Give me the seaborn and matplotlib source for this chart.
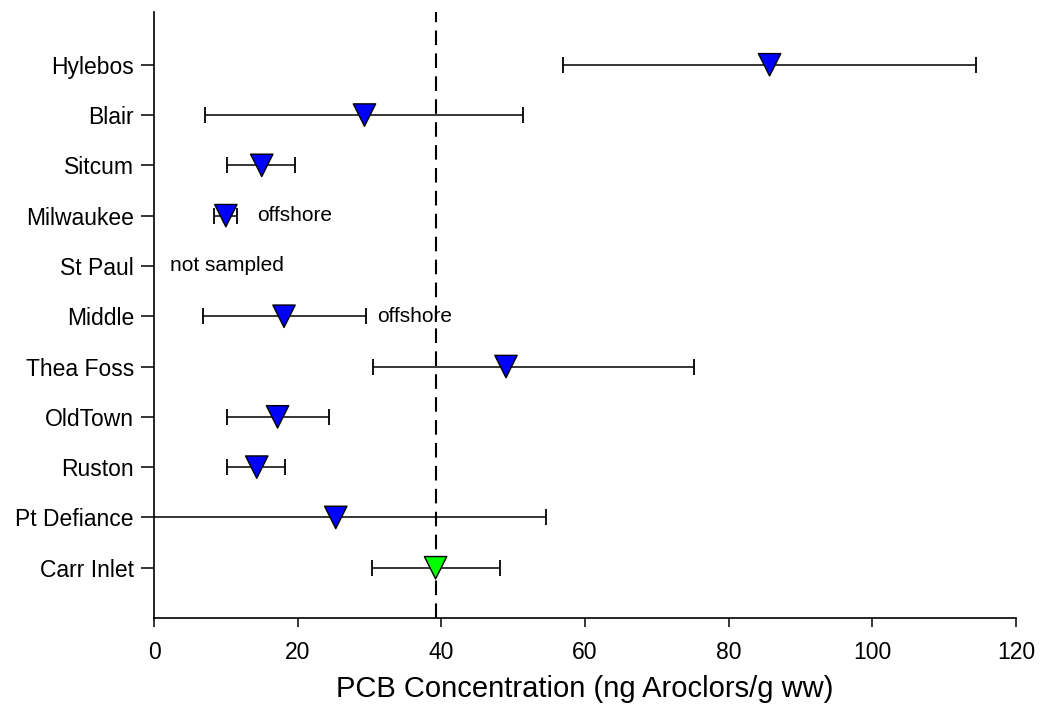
import numpy as np
import pandas as pd
import matplotlib
matplotlib.use("Agg")
import matplotlib.pyplot as plt
import seaborn as sns

sites = ["Hylebos", "Blair", "Sitcum", "Milwaukee", "St Paul", "Middle",
         "Thea Foss", "OldTown", "Ruston", "Pt Defiance", "Carr Inlet"]
means = [85.7, 29.3, 15.0, 10.0, np.nan, 18.1, 49.0, 17.2, 14.3, 25.3, 39.2]
lower = [56.9, 7.1, 10.2, 8.4, np.nan, 6.8, 30.5, 10.2, 10.2, -2.0, 30.3]
upper = [114.5, 51.4, 19.6, 11.6, np.nan, 29.5, 75.2, 24.3, 18.3, 54.6, 48.1]
site_type = ["urban"] * 10 + ["reference"]
reference_level = 39.2
notes = [("offshore", "Milwaukee", 14.3), ("not sampled", "St Paul", 2.2),
         ("offshore", "Middle", 31.0)]
xticks = [0, 20, 40, 60, 80, 100, 120]

sns.set_theme(style="ticks")
plt.rcParams["font.family"] = ["Liberation Sans", "DejaVu Sans"]
plt.rcParams["text.color"] = "black"
plt.rcParams["axes.labelcolor"] = "black"

df = pd.DataFrame({"site": sites, "mean": means, "lo": lower, "hi": upper,
                   "type": site_type})
df["pos"] = np.arange(len(sites))

fig = plt.figure(figsize=(10.4, 7.13), dpi=100)
ax = fig.add_axes([0.1481, 0.1332, 0.8288, 0.85])

d = df.dropna()
ax.errorbar(d["mean"], d["pos"],
            xerr=[d["mean"] - d["lo"], d["hi"] - d["mean"]],
            fmt="none", ecolor="black", elinewidth=1.1, capsize=6,
            capthick=1.3, zorder=2)

ax.axvline(reference_level, color="black", lw=1.5, ls=(0, (7, 4)), zorder=1)

sns.scatterplot(data=d, x="mean", y="pos", hue="type",
                palette={"urban": "#0000FF", "reference": "#00FF00"},
                marker="v", s=260, edgecolor="black", linewidth=1.0,
                legend=False, ax=ax, zorder=3)

for txt, site, xv in notes:
    ax.text(xv, sites.index(site), txt, fontsize=15, va="center",
            ha="left", color="black")

ax.set_xlim(0, 120)
ax.set_ylim(11.0, -1.05)
ax.set_xticks(xticks)
ax.set_xticklabels([str(t) for t in xticks])
ax.set_yticks(np.arange(len(sites)))
ax.set_yticklabels(sites)
ax.set_ylabel("")
ax.set_xlabel("PCB Concentration (ng Aroclors/g ww)", fontsize=21, labelpad=8)
ax.tick_params(axis="y", direction="out", length=9.5, width=1.1, pad=5,
               labelsize=16.5, colors="black")
ax.tick_params(axis="x", direction="out", length=6.5, width=1.1, pad=10,
               labelsize=16.5, colors="black")
for s in ["top", "right"]:
    ax.spines[s].set_visible(False)
for s in ["left", "bottom"]:
    ax.spines[s].set_linewidth(1.2)
    ax.spines[s].set_color("black")

fig.savefig("out.png", dpi=100, facecolor="white")
